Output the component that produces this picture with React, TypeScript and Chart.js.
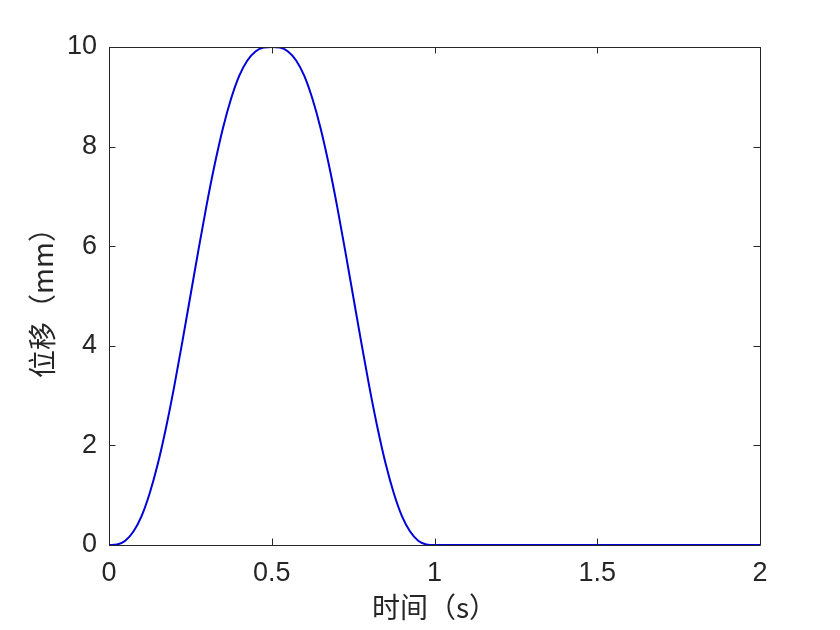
import React, { useEffect, useRef } from "react";
import { Chart, registerables } from "chart.js";

Chart.register(...registerables);

// time (s)
const timeValues = [
  0, 0.025, 0.05, 0.075, 0.1, 0.125, 0.15, 0.175, 0.2, 0.225, 0.25, 0.275, 0.3, 0.325, 0.35, 0.375, 0.4, 0.425, 0.45, 0.475, 0.5,
  0.525, 0.55, 0.575, 0.6, 0.625, 0.65, 0.675, 0.7, 0.725, 0.75, 0.775, 0.8, 0.825, 0.85, 0.875, 0.9, 0.925, 0.95, 0.975, 1.0,
  1.25, 1.5, 1.75, 2.0,
];
// displacement (mm)
const displacementValues = [
  0, 0.012, 0.086, 0.27, 0.58, 1.04, 1.63, 2.35, 3.17, 4.07, 5.0, 5.93, 6.83, 7.65, 8.37, 8.96, 9.42, 9.73, 9.91, 9.99, 10,
  9.99, 9.91, 9.73, 9.42, 8.96, 8.37, 7.65, 6.83, 5.93, 5.0, 4.07, 3.17, 2.35, 1.63, 1.04, 0.58, 0.27, 0.086, 0.012, 0,
  0, 0, 0, 0,
];
const xTicks = [0, 0.5, 1, 1.5, 2];
const yTicks = [0, 2, 4, 6, 8, 10];
const xTitle = "时间（s）";
const yTitle = "位移（mm）";

const AXIS_COLOR = "#262626";
const TICK_FONT = "Liberation Sans, Arial, Helvetica, sans-serif";
const CJK_FONT = "'Noto Sans CJK SC', 'Liberation Sans', sans-serif";

const boxPlugin = {
  id: "matlabBox",
  afterDraw(chart: any) {
    const { ctx, chartArea } = chart;
    const { left, right, top, bottom } = chartArea;
    const xs = chart.scales.x;
    const ys = chart.scales.y;
    const tl = 6.5;
    ctx.save();
    ctx.strokeStyle = AXIS_COLOR;
    ctx.lineWidth = 1;
    ctx.beginPath();
    ctx.rect(Math.round(left) + 0.5, Math.round(top) + 0.5, Math.round(right - left), Math.round(bottom - top));
    ctx.stroke();
    ctx.beginPath();
    for (const v of xTicks) {
      const px = Math.round(xs.getPixelForValue(v)) + 0.5;
      ctx.moveTo(px, bottom);
      ctx.lineTo(px, bottom - tl);
      ctx.moveTo(px, top);
      ctx.lineTo(px, top + tl);
    }
    for (const v of yTicks) {
      const py = Math.round(ys.getPixelForValue(v)) + 0.5;
      ctx.moveTo(left, py);
      ctx.lineTo(left + tl, py);
      ctx.moveTo(right, py);
      ctx.lineTo(right - tl, py);
    }
    ctx.stroke();

    ctx.fillStyle = AXIS_COLOR;
    ctx.font = `28px ${CJK_FONT}`;
    ctx.textAlign = "center";
    ctx.textBaseline = "middle";
    ctx.fillText(xTitle, (left + right) / 2, 607);
    ctx.translate(42, (top + bottom) / 2);
    ctx.rotate(-Math.PI / 2);
    ctx.fillText(yTitle, 0, 0);
    ctx.restore();
  },
};

export default function App() {
  const canvasRef = useRef<HTMLCanvasElement | null>(null);

  useEffect(() => {
    const canvas = canvasRef.current;
    if (!canvas) return;
    const data = timeValues.map((t, i) => ({ x: t, y: displacementValues[i] }));
    const chart = new Chart(canvas, {
      type: "line",
      data: {
        datasets: [
          {
            data,
            borderColor: "#0000d8",
            borderWidth: 2,
            pointRadius: 0,
            fill: false,
            cubicInterpolationMode: "monotone",
          },
        ],
      },
      options: {
        responsive: false,
        animation: false,
        devicePixelRatio: 1,
        layout: { padding: { left: 0, right: 80, top: 47, bottom: 0 } },
        plugins: { legend: { display: false }, tooltip: { enabled: false } },
        scales: {
          x: {
            type: "linear",
            min: 0,
            max: 2,
            afterBuildTicks: (scale: any) => {
              scale.ticks = xTicks.map((v) => ({ value: v }));
            },
            afterFit: (scale: any) => {
              scale.height = 85;
            },
            grid: { display: false, drawTicks: false },
            border: { display: false },
            ticks: {
              color: AXIS_COLOR,
              font: { family: TICK_FONT, size: 27 },
              padding: 12,
              maxRotation: 0,
              autoSkip: false,
              callback: (v: any) => String(v),
            },
          },
          y: {
            type: "linear",
            min: 0,
            max: 10,
            afterBuildTicks: (scale: any) => {
              scale.ticks = yTicks.map((v) => ({ value: v }));
            },
            afterFit: (scale: any) => {
              scale.width = 109;
            },
            grid: { display: false, drawTicks: false },
            border: { display: false },
            ticks: {
              color: AXIS_COLOR,
              font: { family: TICK_FONT, size: 27 },
              padding: 12,
              autoSkip: false,
              callback: (v: any) => String(v),
            },
          },
        },
      },
      plugins: [boxPlugin],
    } as any);
    return () => chart.destroy();
  }, []);

  return (
    <div style={{ position: "fixed", left: 0, top: 0, width: 840, height: 630, background: "#ffffff" }}>
      <canvas ref={canvasRef} width={840} height={630} style={{ width: 840, height: 630, display: "block" }} />
    </div>
  );
}
